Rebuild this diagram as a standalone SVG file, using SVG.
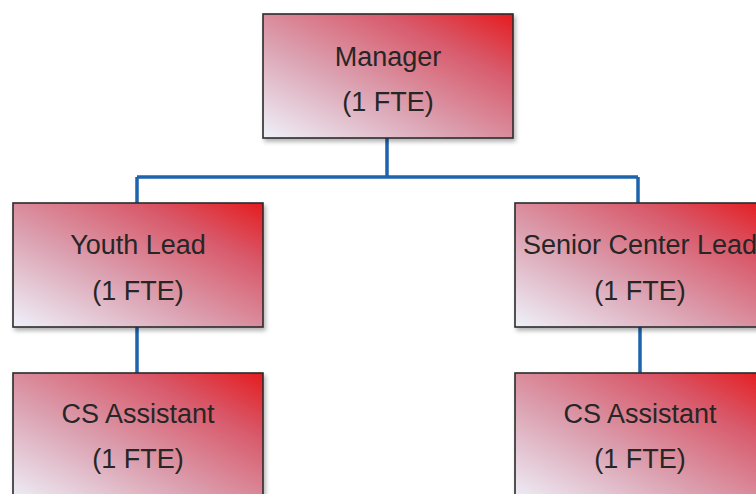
<svg xmlns="http://www.w3.org/2000/svg" width="756" height="494" viewBox="0 0 756 494">
<style>
.box{fill:url(#g);stroke:#2b2b2b;stroke-width:1.6;filter:url(#sh)}
.t{font-family:"Liberation Sans",Arial,sans-serif;font-size:27px;fill:#262626;text-anchor:middle}
.c{stroke:#1d63ad;stroke-width:3.5;fill:none}
</style>
<defs>
<linearGradient id="g" x1="0" y1="1" x2="1" y2="0">
<stop offset="0" stop-color="#eef1fa"/>
<stop offset="0.4" stop-color="#dba0b0"/>
<stop offset="0.75" stop-color="#d8596a"/>
<stop offset="1" stop-color="#e51c1f"/>
</linearGradient>
<filter id="sh" x="-5%" y="-5%" width="115%" height="120%">
<feDropShadow dx="2" dy="3" stdDeviation="2" flood-color="#000" flood-opacity="0.3"/>
</filter>
</defs>
<rect width="756" height="494" fill="#ffffff"/>
<g id="connectors">
<path class="c" d="M387 138V177M137 177H638M137 177V203M638 177V203M137 327V373M640 327V373"/>
</g>
<g id="manager">
<rect class="box" x="263" y="14" width="250" height="124"/>
<text class="t" x="388" y="66">Manager</text>
<text class="t" x="388" y="111">(1 FTE)</text>
</g>
<g id="youth-lead">
<rect class="box" x="13" y="203" width="250" height="124"/>
<text class="t" x="138" y="254">Youth Lead</text>
<text class="t" x="138" y="300">(1 FTE)</text>
</g>
<g id="senior-center-lead">
<rect class="box" x="515" y="203" width="250" height="124"/>
<text class="t" x="640" y="254">Senior Center Lead</text>
<text class="t" x="640" y="300">(1 FTE)</text>
</g>
<g id="cs-assistant-1">
<rect class="box" x="13" y="373" width="250" height="130"/>
<text class="t" x="138" y="423">CS Assistant</text>
<text class="t" x="138" y="468">(1 FTE)</text>
</g>
<g id="cs-assistant-2">
<rect class="box" x="515" y="373" width="250" height="130"/>
<text class="t" x="640" y="423">CS Assistant</text>
<text class="t" x="640" y="468">(1 FTE)</text>
</g>
</svg>
